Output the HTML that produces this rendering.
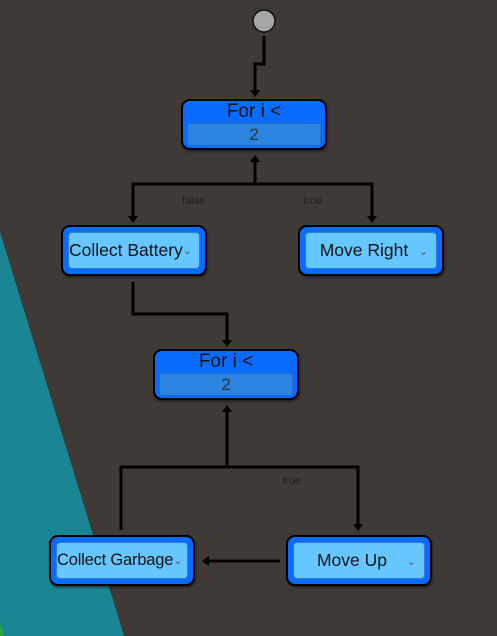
<!DOCTYPE html>
<html><head><style>
body{margin:0;width:497px;height:636px;overflow:hidden;background:#3f3a36;font-family:"Liberation Sans",sans-serif;}
.n{position:absolute;width:142px;height:47px;background:#0a6cff;border:2px solid #000;border-radius:9px;box-shadow:1px 2px 2px rgba(0,0,0,.4);}
.f{position:absolute;left:5px;top:5px;right:5px;bottom:5px;background:#66c7ff;border:1px solid #2a80d0;border-radius:4px;font-size:17.5px;color:#111;display:flex;align-items:center;white-space:nowrap;}
.t{position:absolute;left:0;right:0;top:0px;text-align:center;font-size:19px;color:#111;}
.v{position:absolute;left:4px;right:4px;top:22px;height:21px;background:#2b84e0;border:1px solid #1c6cc8;border-radius:3px;text-align:center;font-size:17px;color:#333;line-height:21px;}
.chev{position:absolute;right:8px;top:12px;font-size:11px;color:#556;}
.lbl{position:absolute;font-size:11px;color:#222;}
</style></head><body>
<svg width="497" height="636" style="position:absolute;left:0;top:0">
<polygon points="0,232 124,636 0,636" fill="#1a8694"/>
<polygon points="0,622 4,636 0,636" fill="#2ea040"/>
<circle cx="264" cy="21" r="11" fill="#a6a6a6" stroke="#111" stroke-width="1.5"/>
<g stroke="#000" stroke-width="3" fill="none">
<polyline points="264,36 264,64 255,64 255,92"/>
<polyline points="255,160 255,184"/>
<polyline points="133,218 133,184 372,184 372,218"/>
<polyline points="133,282 133,314 227,314 227,342"/>
<polyline points="227,410 227,467"/>
<polyline points="121,530 121,467 358,467 358,526"/>
<polyline points="280,561 207,561"/>
</g>
<g fill="#000">
<polygon points="250,90 260,90 255,97"/>
<polygon points="250,162 260,162 255,155"/>
<polygon points="128,216 138,216 133,223"/>
<polygon points="367,216 377,216 372,223"/>
<polygon points="222,340 232,340 227,347"/>
<polygon points="222,412 232,412 227,405"/>
<polygon points="353,524 363,524 358,531"/>
<polygon points="209,556 209,566 202,561"/>
</g>
</svg>
<div class="lbl" style="left:182px;top:195px">false</div>
<div class="lbl" style="left:303px;top:195px">true</div>
<div class="lbl" style="left:282px;top:475px">true</div>
<div class="n" style="left:181px;top:99px"><div class="t">For i &lt;</div><div class="v">2</div></div>
<div class="n" style="left:153px;top:349px"><div class="t">For i &lt;</div><div class="v">2</div></div>
<div class="n" style="left:61px;top:225px"><div class="f" style="padding-left:0">Collect Battery<span style="font-size:11px;color:#556">⌄</span></div></div>
<div class="n" style="left:298px;top:225px"><div class="f" style="justify-content:center;padding-right:14px">Move Right<span class="chev">⌄</span></div></div>
<div class="n" style="left:49px;top:535px"><div class="f" style="padding-left:0;font-size:16.5px;letter-spacing:-0.2px">Collect Garbage<span style="font-size:11px;color:#556">⌄</span></div></div>
<div class="n" style="left:286px;top:535px"><div class="f" style="justify-content:center;padding-right:14px">Move Up<span class="chev">⌄</span></div></div>
</body></html>
